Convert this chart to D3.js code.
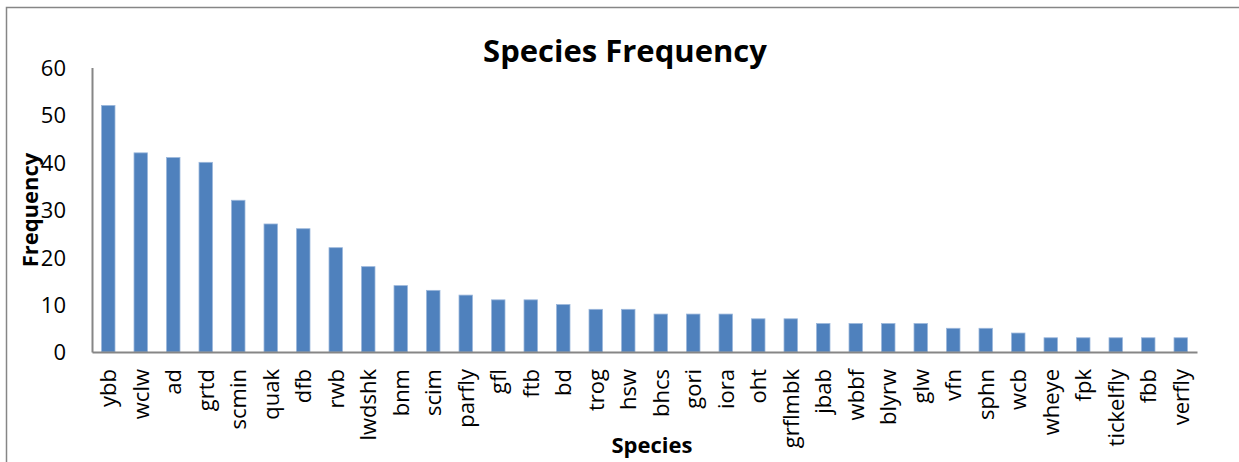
<!DOCTYPE html>
<html>
<head>
<meta charset="utf-8">
<script src="https://cdn.jsdelivr.net/npm/d3@7"></script>
<style>
  body { margin: 0; background: #fff; }
  text { font-family: "Open Sans", "Noto Sans", sans-serif; fill: #000; }
</style>
</head>
<body>
<svg id="chart" width="1239" height="462"></svg>
<script>
const species = ["ybb", "wclw", "ad", "grtd", "scmin", "quak", "dfb", "rwb", "lwdshk", "bnm",
  "scim", "parfly", "gfl", "ftb", "bd", "trog", "hsw", "bhcs", "gori", "iora", "oht",
  "grflmbk", "jbab", "wbbf", "blyrw", "glw", "vfn", "sphn", "wcb", "wheye", "fpk",
  "tickelfly", "fbb", "verfly"];
const frequency = [52, 42, 41, 40, 32, 27, 26, 22, 18, 14, 13, 12, 11, 11, 10, 9, 9, 8, 8, 8, 7,
  7, 6, 6, 6, 6, 5, 5, 4, 3, 3, 3, 3, 3];
const yTicks = [0, 10, 20, 30, 40, 50, 60];

const svg = d3.select("#chart");
const plotLeft = 92, plotRight = 1197, plotTop = 67.5, plotBottom = 352;

// outer chart border
svg.append("rect")
  .attr("x", 6.5).attr("y", 7.5)
  .attr("width", 1300).attr("height", 500)
  .attr("fill", "none")
  .attr("stroke", "#868686")
  .attr("stroke-width", 1.5);

const x = d3.scaleBand()
  .domain(species)
  .range([plotLeft, plotRight])
  .paddingInner(0.585)
  .paddingOuter(0.2925);

const y = d3.scaleLinear()
  .domain([0, 60])
  .range([plotBottom, plotTop]);

svg.append("g")
  .selectAll("rect")
  .data(species)
  .enter().append("rect")
  .attr("x", (d) => x(d))
  .attr("y", (d, i) => y(frequency[i]))
  .attr("width", x.bandwidth())
  .attr("height", (d, i) => y(0) - y(frequency[i]))
  .attr("fill", "#4f81bd")
  .attr("stroke", "#9bb7db")
  .attr("stroke-width", 0.8);

// y axis
const yAxis = svg.append("g")
  .attr("transform", `translate(${plotLeft},0)`)
  .call(d3.axisLeft(y).tickValues(yTicks).tickSize(0).tickPadding(26));
yAxis.select(".domain").attr("stroke", "#868686").attr("stroke-width", 2);
yAxis.selectAll("text")
  .style("font-size", "22px")
  .attr("dy", "0.36em");

// x axis
const xAxis = svg.append("g")
  .attr("transform", `translate(0,${plotBottom})`)
  .call(d3.axisBottom(x).tickSize(0).tickPadding(0));
xAxis.select(".domain").attr("stroke", "#868686").attr("stroke-width", 2);
xAxis.selectAll("text")
  .style("font-size", "22px")
  .attr("text-anchor", "end")
  .attr("transform", "rotate(-90)")
  .attr("x", -17)
  .attr("y", 0)
  .attr("dy", "0.36em");

svg.append("text")
  .attr("x", 625).attr("y", 62)
  .attr("text-anchor", "middle")
  .style("font-size", "31px")
  .style("font-weight", "bold")
  .text("Species Frequency");

svg.append("text")
  .attr("x", 652).attr("y", 453)
  .attr("text-anchor", "middle")
  .style("font-size", "22px")
  .style("font-weight", "bold")
  .text("Species");

svg.append("text")
  .attr("transform", "translate(38,210) rotate(-90)")
  .attr("text-anchor", "middle")
  .style("font-size", "22px")
  .style("font-weight", "bold")
  .text("Frequency");
</script>
</body>
</html>
